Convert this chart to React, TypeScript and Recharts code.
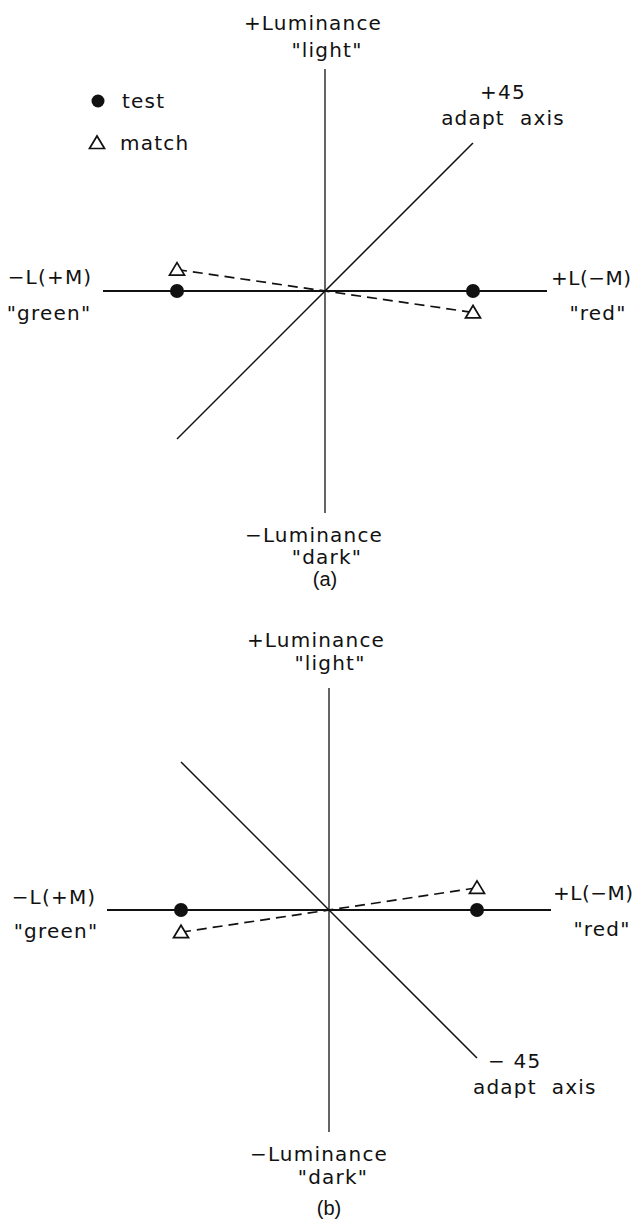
import React from 'react';
import { ScatterChart, Scatter, XAxis, YAxis, ReferenceLine } from 'recharts';

// values in "test point" units: the test lights sit at +/-1 on the L-M axis
const axisDomain = [-1.5, 1.5];

const adaptAxisA = [{ x: -1, y: -1 }, { x: 1, y: 1 }];
const testPointsA = [{ x: -1, y: 0 }, { x: 1, y: 0 }];
const matchPointsA = [{ x: -1, y: 0.145 }, { x: 1, y: -0.145 }];

const adaptAxisB = [{ x: -1, y: 1 }, { x: 1, y: -1 }];
const testPointsB = [{ x: -1, y: 0 }, { x: 1, y: 0 }];
const matchPointsB = [{ x: -1, y: -0.15 }, { x: 1, y: 0.15 }];

const W = 638;
const H = 612;
const INK = '#111';

const labelFont: React.CSSProperties = {
  fontFamily: '"DejaVu Sans", sans-serif',
  fontSize: 20,
  letterSpacing: 1.2,
};

const tight: React.CSSProperties = { letterSpacing: 0.5 };

const captionFont: React.CSSProperties = {
  fontFamily: '"Liberation Sans", Arial, sans-serif',
  fontSize: 20,
  letterSpacing: 0,
};

const Dot = (props: any) => <circle cx={props.cx} cy={props.cy} r={7} fill={INK} />;

const Tri = (props: any) => {
  const { cx, cy } = props;
  return (
    <polygon
      points={`${cx - 7.5},${cy + 5.5} ${cx + 7.5},${cy + 5.5} ${cx},${cy - 7}`}
      fill="#fff"
      stroke={INK}
      strokeWidth={1.7}
    />
  );
};

const NoMark = () => <g />;

type PanelProps = {
  adapt: { x: number; y: number }[];
  test: { x: number; y: number }[];
  match: { x: number; y: number }[];
  margin: { top: number; right: number; bottom: number; left: number };
  children: React.ReactNode;
};

const Panel = ({ adapt, test, match, margin, children }: PanelProps) => (
  <div style={{ position: 'relative', width: W, height: H }}>
    <ScatterChart width={W} height={H} margin={margin}>
      <XAxis type="number" dataKey="x" domain={axisDomain} hide />
      <YAxis type="number" dataKey="y" domain={axisDomain} hide />
      <ReferenceLine y={0} stroke={INK} strokeWidth={1.8} />
      <ReferenceLine x={0} stroke={INK} strokeWidth={1.3} />
      <Scatter
        data={adapt}
        line={{ stroke: INK, strokeWidth: 1.5 }}
        lineType="joint"
        shape={NoMark}
        isAnimationActive={false}
      />
      <Scatter
        data={match}
        line={{ stroke: INK, strokeWidth: 1.7, strokeDasharray: '10 6' }}
        lineType="joint"
        shape={Tri}
        isAnimationActive={false}
      />
      <Scatter data={test} shape={Dot} isAnimationActive={false} />
    </ScatterChart>
    <svg
      width={W}
      height={H}
      style={{ position: 'absolute', left: 0, top: 0, pointerEvents: 'none' }}
    >
      <g style={labelFont} fill={INK} dominantBaseline="central">
        {children}
      </g>
    </svg>
  </div>
);

export default function App() {
  return (
    <div
      style={{
        position: 'absolute',
        left: 0,
        top: 0,
        width: W,
        height: 1224,
        background: '#fff',
      }}
    >
      <Panel
        adapt={adaptAxisA}
        test={testPointsA}
        match={matchPointsA}
        margin={{ top: 69, right: 91, bottom: 99, left: 103 }}
      >
        <text x={313} y={23} textAnchor="middle">+Luminance</text>
        <text x={327} y={50} textAnchor="middle">"light"</text>
        <text x={314} y={535} textAnchor="middle">{'\u2212'}Luminance</text>
        <text x={327} y={557} textAnchor="middle">"dark"</text>
        <text x={325} y={579} textAnchor="middle" style={captionFont}>(a)</text>
        <text x={50} y={277} textAnchor="middle">{'\u2212'}L(+M)</text>
        <text x={49} y={313} textAnchor="middle">"green"</text>
        <text x={551} y={278} textAnchor="start" style={tight}>+L({'\u2212'}M)</text>
        <text x={598} y={313} textAnchor="middle">"red"</text>
        <text x={503} y={92} textAnchor="middle">+45</text>
        <text x={503} y={118} textAnchor="middle" xmlSpace="preserve">adapt  axis</text>
        <circle cx={98} cy={101} r={6.5} fill={INK} />
        <text x={122} y={101}>test</text>
        <Tri cx={97} cy={143} />
        <text x={120} y={143}>match</text>
      </Panel>
      <Panel
        adapt={adaptAxisB}
        test={testPointsB}
        match={matchPointsB}
        margin={{ top: 76, right: 87, bottom: 92, left: 107 }}
      >
        <text x={316} y={28} textAnchor="middle">+Luminance</text>
        <text x={330} y={51} textAnchor="middle">"light"</text>
        <text x={319} y={542} textAnchor="middle">{'\u2212'}Luminance</text>
        <text x={333} y={565} textAnchor="middle">"dark"</text>
        <text x={329} y={596} textAnchor="middle" style={captionFont}>(b)</text>
        <text x={54} y={285} textAnchor="middle">{'\u2212'}L(+M)</text>
        <text x={56} y={319} textAnchor="middle">"green"</text>
        <text x={553} y={281} textAnchor="start" style={tight}>+L({'\u2212'}M)</text>
        <text x={602} y={317} textAnchor="middle">"red"</text>
        <text x={488} y={449} textAnchor="start" xmlSpace="preserve">{'\u2212'} 45</text>
        <text x={473} y={475} textAnchor="start" xmlSpace="preserve">adapt  axis</text>
      </Panel>
    </div>
  );
}
